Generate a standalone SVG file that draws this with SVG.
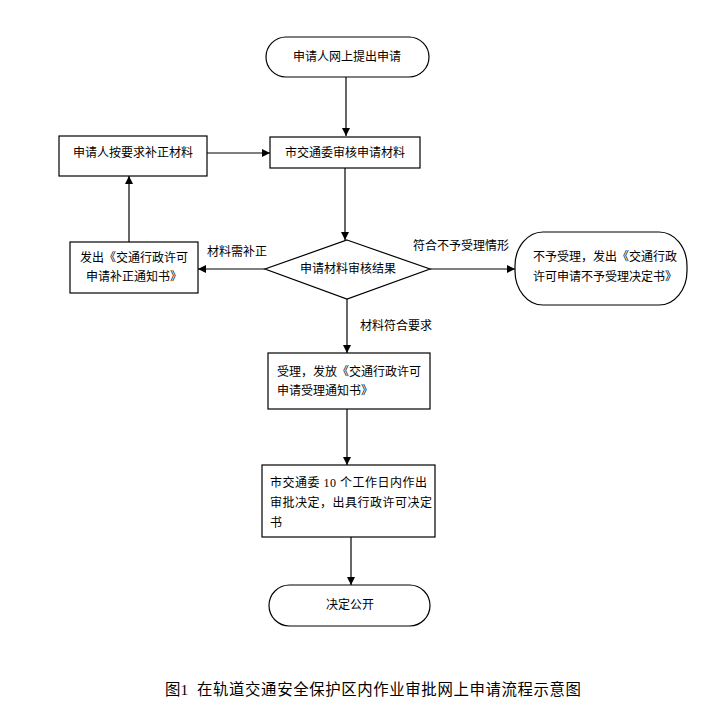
<svg xmlns="http://www.w3.org/2000/svg" width="711" height="714" viewBox="0 0 711 714">
<style>
.n{fill:#fff;stroke:#000;stroke-width:1.2}
.t{font-family:"Liberation Serif","Noto Sans CJK SC",serif;font-size:12px;fill:#000}
.c{text-anchor:middle}
.e{stroke:#000;stroke-width:1.2;fill:none;marker-end:url(#a)}
</style>
<defs>
<marker id="a" viewBox="0 0 10 10" refX="10" refY="5" markerWidth="8" markerHeight="8" markerUnits="userSpaceOnUse" orient="auto">
<path d="M0,0 L10,5 L0,10 z" fill="#000"/>
</marker>
</defs>
<rect width="711" height="714" fill="#fff"/>
<g id="connectors">
<line class="e" x1="346" y1="77" x2="346" y2="136"/>
<line class="e" x1="207" y1="153" x2="270" y2="153"/>
<line class="e" x1="345" y1="168" x2="345" y2="240"/>
<line class="e" x1="265" y1="269" x2="198" y2="269"/>
<line class="e" x1="129" y1="242" x2="129" y2="176"/>
<line class="e" x1="430" y1="269" x2="515" y2="269"/>
<line class="e" x1="347" y1="299" x2="347" y2="353"/>
<line class="e" x1="347" y1="409" x2="347" y2="465"/>
<line class="e" x1="351" y1="537" x2="351" y2="585"/>
<text class="t" x="207" y="256">材料需补正</text>
<text class="t" x="413" y="250">符合不予受理情形</text>
<text class="t" x="360" y="330">材料符合要求</text>
</g>
<g id="start">
<rect class="n" x="266" y="37" width="163" height="40" rx="20" ry="20"/>
<text class="t c" x="347" y="61">申请人网上提出申请</text>
</g>
<g id="review">
<rect class="n" x="270" y="137" width="150" height="31"/>
<text class="t c" x="345" y="157">市交通委审核申请材料</text>
</g>
<g id="supplement">
<rect class="n" x="59" y="136" width="148" height="40"/>
<text class="t c" x="133" y="157">申请人按要求补正材料</text>
</g>
<g id="decision">
<polygon class="n" points="347,240 430,269 347,299 265,269"/>
<text class="t c" x="348" y="273">申请材料审核结果</text>
</g>
<g id="notice-supplement">
<rect class="n" x="70" y="242" width="128" height="51"/>
<text class="t c" x="134" y="262">发出《交通行政许可</text>
<text class="t c" x="134" y="281">申请补正通知书》</text>
</g>
<g id="reject">
<rect class="n" x="515" y="232" width="172" height="73" rx="28" ry="34"/>
<text class="t" x="533" y="261">不予受理，发出《交通行政</text>
<text class="t" x="533" y="281">许可申请不予受理决定书》</text>
</g>
<g id="accept">
<rect class="n" x="268" y="353" width="162" height="56"/>
<text class="t" x="277" y="376">受理，发放《交通行政许可</text>
<text class="t" x="277" y="395">申请受理通知书》</text>
</g>
<g id="decide">
<rect class="n" x="262" y="465" width="173" height="72"/>
<text class="t" x="270" y="487" style="letter-spacing:0.5px">市交通委 10 个工作日内作出</text>
<text class="t" x="270" y="507" style="letter-spacing:0.5px">审批决定，出具行政许可决定</text>
<text class="t" x="270" y="527">书</text>
</g>
<g id="publish">
<rect class="n" x="269" y="585" width="161" height="41" rx="20.5" ry="20.5"/>
<text class="t c" x="350" y="609">决定公开</text>
</g>
<text y="695" style="font-family:'Liberation Serif','Noto Sans CJK SC',serif;font-size:15.4px"><tspan x="165">图1</tspan><tspan x="197" textLength="384" lengthAdjust="spacing">在轨道交通安全保护区内作业审批网上申请流程示意图</tspan></text>
</svg>
